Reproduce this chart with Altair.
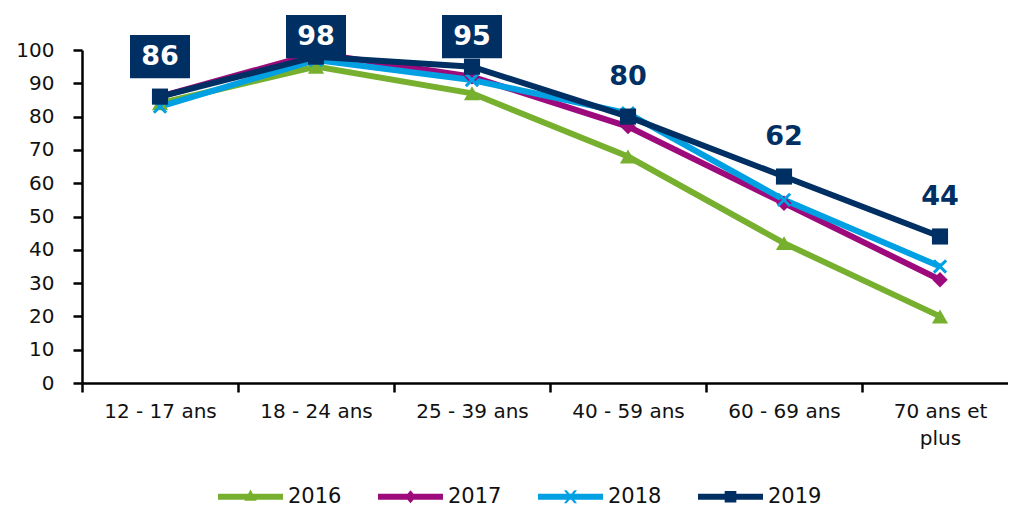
import altair as alt
import pandas as pd

categories = ["12 - 17 ans", "18 - 24 ans", "25 - 39 ans", "40 - 59 ans", "60 - 69 ans", "70 ans et plus"]
years = ["2016", "2017", "2018", "2019"]
v2016 = [84, 95, 87, 68, 42, 20]
v2017 = [86, 99, 92, 77, 54, 31]
v2018 = [83, 97, 91, 81, 55, 35]
v2019 = [86, 98, 95, 80, 62, 44]
label_boxed = [True, True, True, False, False, False]

colors = ["#77B02F", "#9C0A7C", "#00A0E3", "#003063"]
NAVY = colors[3]
FONT = "DejaVu Sans"

series = {"2016": v2016, "2017": v2017, "2018": v2018, "2019": v2019}
rows = []
for y in years:
    for i, c in enumerate(categories):
        rows.append({"cat": c, "year": y, "v": series[y][i], "boxed": label_boxed[i]})
df = pd.DataFrame(rows)

xscale = alt.Scale(type="band", domain=categories, range=[0, 936], paddingInner=0, paddingOuter=0)
yscale = alt.Scale(domain=[0, 100], nice=False)
cscale = alt.Scale(domain=years, range=colors)

x_axis = alt.Axis(
    title=None, tickBand="extent", labelAngle=0, labelFont=FONT, labelFontSize=20,
    labelColor="#111", labelPadding=9, tickSize=9, tickColor="black", tickWidth=2.5,
    domainColor="black", domainWidth=2.5, grid=False, labelLineHeight=27,
    labelExpr="datum.label == '70 ans et plus' ? ['70 ans et', 'plus'] : datum.label",
)
y_axis = alt.Axis(
    title=None, values=list(range(0, 101, 10)), labelFont=FONT, labelFontSize=20,
    labelColor="#111", labelPadding=19, tickSize=9, tickColor="black", tickWidth=2.5,
    domainColor="black", domainWidth=2.5, grid=False,
)

X = alt.X("cat:N", scale=xscale, axis=x_axis, sort=categories, bandPosition=0.5)
Y = alt.Y("v:Q", scale=yscale, axis=y_axis)

base = alt.Chart(df)

lines = base.mark_line(strokeWidth=6).encode(
    x=X, y=Y, color=alt.Color("year:N", scale=cscale, legend=None), order=alt.Order("year:N")
)

marker_shapes = {
    "2016": ("triangle-up", 260, True),
    "2017": ("diamond", 240, True),
    "2018": ("M-1,-1L1,1M1,-1L-1,1", 150, False),
    "2019": ("square", 260, True),
}
point_layers = []
for yv in years:
    shp, sz, filled = marker_shapes[yv]
    kw = dict(shape=shp, size=sz, filled=filled, opacity=1)
    if not filled:
        kw["strokeWidth"] = 3
    point_layers.append(
        base.transform_filter(alt.datum.year == yv)
        .mark_point(**kw)
        .encode(x=X, y=Y, color=alt.Color("year:N", scale=cscale, legend=None))
    )

# legend symbols: line + marker
L = "M-1,-0.09L1,-0.09L1,0.09L-1,0.09Z"
legend_paths = [
    L + "M0,-0.22L0.19,0.12L-0.19,0.12Z",
    L + "M0,-0.2L0.17,0L0,0.2L-0.17,0Z",
    L + "M-0.2,-0.2L-0.12,-0.2L0,-0.06L0.12,-0.2L0.2,-0.2L0.05,0L0.2,0.2L0.12,0.2L0,0.06L-0.12,0.2L-0.2,0.2L-0.05,0Z",
    L + "M-0.18,-0.18L0.18,-0.18L0.18,0.18L-0.18,0.18Z",
]
leg = alt.Legend(
    title=None, orient="none", legendX=136, legendY=414, direction="horizontal",
    labelFont=FONT, labelFontSize=21, labelColor="#111", symbolSize=4225,
    symbolStrokeWidth=0, columnPadding=36, labelOffset=5, symbolOpacity=1, padding=0,
)
legend_layer = base.mark_point(filled=True, size=4225, opacity=0).encode(
    x=X, y=Y,
    color=alt.Color("year:N", scale=cscale, legend=leg),
    shape=alt.Shape("year:N", scale=alt.Scale(domain=years, range=legend_paths), legend=leg),
)

lab_base = base.transform_filter(alt.datum.year == "2019").transform_calculate(
    lab="min(datum.v + 12, 104)"
)
LY = alt.Y("lab:Q", scale=yscale, axis=y_axis)
boxes = lab_base.transform_filter(alt.datum.boxed).mark_point(
    shape="M-1,-0.72L1,-0.72L1,0.72L-1,0.72Z", size=3600, filled=True, opacity=1, color=NAVY
).encode(x=X, y=LY)
labels = lab_base.mark_text(font=FONT, fontSize=27, fontWeight="bold", baseline="middle", align="center").encode(
    x=X, y=LY, text=alt.Text("v:Q"),
    color=alt.when(alt.datum.boxed).then(alt.value("white")).otherwise(alt.value(NAVY)),
)

chart = alt.layer(legend_layer, lines, *point_layers, boxes, labels).properties(
    width=926, height=333,
    background="white",
    autosize=alt.AutoSizeParams(type="none"),
    padding={"left": 74, "top": 42, "right": 0, "bottom": 125},
).configure_view(stroke=None)

chart.save("out.html", embed_options={"renderer": "svg", "actions": False})
